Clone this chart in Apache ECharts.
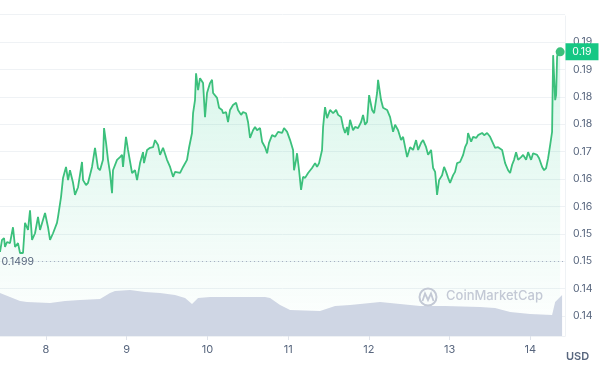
<!DOCTYPE html>
<html>
<head>
<meta charset="utf-8">
<script src="https://cdn.jsdelivr.net/npm/echarts@6.0.0/dist/echarts.min.js"></script>
<style>
html,body{margin:0;padding:0;background:#fff;}
#chart{width:600px;height:366px;}
</style>
</head>
<body>
<div id="chart"></div>
<script>
// ---- data (time in days of month, price in USD) ----
const times = [
  7.430,7.455,7.480,7.492,7.517,7.554,7.591,7.616,7.653,7.678,7.715,7.740,7.777,7.802,7.827,7.864,7.901,7.926,7.988,8.025,8.050,8.087,8.136,8.149,8.186,8.211,8.248,8.273,8.297,8.335,8.359,8.397,8.446,8.459,8.496,8.521,8.570,8.607,8.644,
  8.669,8.706,8.719,8.744,8.768,8.793,8.818,8.830,8.880,8.917,8.942,8.954,8.991,9.016,9.066,9.103,9.128,9.165,9.202,9.214,9.252,9.289,9.326,9.351,9.388,9.413,9.450,9.499,9.537,9.574,9.599,9.623,9.661,9.698,9.747,9.772,9.809,9.822,9.846,9.859,
  9.884,9.908,9.946,9.970,9.995,10.032,10.057,10.070,10.119,10.144,10.181,10.193,10.231,10.255,10.280,10.317,10.355,10.379,10.417,10.441,10.478,10.503,10.528,10.565,10.590,10.615,10.652,10.677,10.714,10.739,10.763,10.801,10.838,10.875,10.925,10.949,10.987,11.024,
  11.061,11.073,11.098,11.110,11.135,11.160,11.185,11.210,11.247,11.296,11.334,11.358,11.383,11.420,11.433,11.457,11.482,11.519,11.557,11.594,11.619,11.656,11.681,11.705,11.730,11.742,11.767,11.804,11.829,11.866,11.904,11.928,11.953,11.978,12.003,12.040,12.065,12.102,12.114,12.151,12.176,12.226,12.263,
  12.300,12.325,12.362,12.399,12.424,12.474,12.511,12.548,12.585,12.610,12.647,12.672,12.709,12.734,12.771,12.796,12.821,12.845,12.870,12.907,12.932,12.957,12.982,13.006,13.044,13.068,13.093,13.130,13.168,13.192,13.217,13.229,13.267,13.291,13.329,13.353,13.403,13.428,13.465,13.502,13.564,13.601,13.651,13.688,13.725,13.750,13.775,13.799,13.824,13.849,13.886,13.911,13.948,13.973,14.010,14.035,14.084,14.109,14.147,14.171,14.196,14.221,14.246,14.270,
  14.283,14.308,14.320,14.332,14.345,14.370
];
const prices = [
  0.1517,0.1539,0.1542,0.1526,0.1535,0.1533,0.1562,0.1526,0.1533,0.1515,0.1515,0.1570,0.1557,0.1593,0.1539,0.1551,0.1581,0.1557,0.1588,0.1562,0.1539,0.1551,0.1570,0.1581,0.1617,0.1652,0.1672,0.1648,0.1666,0.1643,0.1621,0.1635,0.1681,0.1648,0.1639,0.1643,0.1672,0.1707,0.1670,
  0.1666,0.1685,0.1743,0.1716,0.1685,0.1661,0.1624,0.1666,0.1685,0.1690,0.1694,0.1672,0.1727,0.1703,0.1661,0.1666,0.1648,0.1679,0.1699,0.1679,0.1703,0.1707,0.1708,0.1721,0.1712,0.1694,0.1707,0.1685,0.1672,0.1654,0.1663,0.1666,0.1661,0.1672,0.1685,0.1707,0.1734,0.1770,0.1794,0.1843,
  0.1812,0.1834,0.1825,0.1763,0.1807,0.1825,0.1831,0.1807,0.1798,0.1780,0.1776,0.1770,0.1772,0.1754,0.1776,0.1785,0.1789,0.1776,0.1767,0.1772,0.1770,0.1754,0.1725,0.1739,0.1745,0.1739,0.1743,0.1718,0.1708,0.1697,0.1716,0.1730,0.1727,0.1736,0.1734,0.1743,0.1736,0.1721,
  0.1703,0.1666,0.1685,0.1697,0.1666,0.1630,0.1654,0.1652,0.1661,0.1670,0.1679,0.1672,0.1679,0.1703,0.1745,0.1781,0.1761,0.1776,0.1770,0.1776,0.1767,0.1763,0.1745,0.1734,0.1745,0.1730,0.1758,0.1739,0.1745,0.1743,0.1754,0.1767,0.1749,0.1754,0.1803,0.1776,0.1770,0.1807,0.1831,0.1794,0.1780,0.1776,0.1763,
  0.1736,0.1749,0.1739,0.1721,0.1727,0.1690,0.1708,0.1703,0.1721,0.1703,0.1716,0.1721,0.1708,0.1694,0.1703,0.1670,0.1663,0.1621,0.1648,0.1657,0.1672,0.1663,0.1652,0.1643,0.1657,0.1663,0.1679,0.1681,0.1694,0.1708,0.1716,0.1734,0.1718,0.1727,0.1725,0.1730,0.1734,0.1730,0.1734,0.1727,0.1707,0.1708,0.1703,0.1679,0.1666,0.1661,0.1676,0.1685,0.1699,0.1685,0.1690,0.1694,0.1685,0.1699,0.1685,0.1697,0.1694,0.1688,0.1672,0.1666,0.1670,0.1688,0.1712,0.1736,
  0.1876,0.1794,0.1803,0.1873,0.1882,0.1882
];
const volTimes = [7.430,7.554,7.678,7.765,8.050,8.236,8.421,8.669,8.793,8.855,9.041,9.227,9.413,9.599,9.723,9.809,9.884,10.032,10.714,10.776,10.900,11.024,11.395,11.581,11.767,12.139,12.387,12.635,12.944,13.378,13.564,13.750,13.998,14.270,14.308,14.394];
const volumes  = [26.9,24.4,21.9,21.3,20.6,21.9,22.5,23.1,26.9,28.1,28.8,27.5,26.9,25.6,23.8,20.0,23.8,24.4,24.4,23.8,19.4,16.3,15.6,18.8,19.4,21.3,20.0,18.8,18.8,18.1,17.5,15.0,13.8,13.1,21.3,25.6];
const xTicks = [8,9,10,11,12,13,14];
const xTickLabels = ['8','9','10','11','12','13','14'];
const yTickValuesStart = 0.14, yTickStep = 0.005;
const yTickLabels = ['0.14','0.14','0.15','0.15','0.16','0.16','0.17','0.18','0.18','0.19','0.19',''];
const refPrice = 0.1499;
const refPriceLabel = '0.1499';
const refLineStart = 7.901;
const currentPriceLabel = '0.19';

const GREEN = '#16c784';
const LINE = '#3cc07c';
const TXT = '#58667e';
const FONT = 'Inter, Roboto, sans-serif';
const xMin = 7.43, xMax = 14.43;

const lastT = times[times.length-1], lastP = prices[prices.length-1];

const chart = echarts.init(document.getElementById('chart'), null, {renderer:'canvas'});
chart.setOption({
  animation:false,
  textStyle:{fontFamily:FONT},
  grid:[
    {left:0, right:35, top:14.6, bottom:50},
    {left:0, right:35, top:16, bottom:30}
  ],
  xAxis:[
    {gridIndex:0, type:'value', min:xMin, max:xMax, show:false},
    {gridIndex:1, type:'value', min:xMin, max:xMax,
      axisLine:{show:true, lineStyle:{color:'#eff2f5'}},
      axisTick:{show:true, customValues:xTicks, length:4, lineStyle:{color:'#dfe3ea'}},
      axisLabel:{customValues:xTicks, color:TXT, fontSize:11, margin:8, fontFamily:FONT,
        formatter:(v)=>{const i=xTicks.indexOf(Math.round(v)); return i>=0?xTickLabels[i]:'';}},
      splitLine:{show:false}}
  ],
  yAxis:[
    {gridIndex:0, type:'value', position:'right', min:0.14, max:0.195, interval:0.005,
      axisLine:{show:false}, axisTick:{show:false},
      splitLine:{show:true, lineStyle:{color:'#eff2f5', width:1}},
      axisLabel:{color:TXT, fontSize:10.5, margin:8, fontFamily:FONT,
        formatter:(v)=>{const i=Math.round((v-yTickValuesStart)/yTickStep); return yTickLabels[i]||'';}}},
    {gridIndex:1, type:'value', position:'right', min:0, max:200,
      axisLine:{show:true, lineStyle:{color:'#eff2f5'}}, axisTick:{show:false},
      axisLabel:{show:false}, splitLine:{show:false}}
  ],
  series:[
    {
      type:'line', xAxisIndex:0, yAxisIndex:0,
      data: times.map((t,i)=>[t,prices[i]]),
      showSymbol:false, symbol:'none',
      lineStyle:{color:LINE, width:1.8},
      areaStyle:{origin:'start', color:new echarts.graphic.LinearGradient(0,0,0,1,[
        {offset:0,color:'rgba(22,199,132,0.24)'},
        {offset:1,color:'rgba(22,199,132,0.02)'}])},
      markLine:{
        silent:true, symbol:['none','none'],
        data:[
          [{coord:[refLineStart, refPrice], lineStyle:{color:'#a6b0c3', type:[1,3], width:1},
             label:{show:true, position:'start', formatter:refPriceLabel, color:TXT, fontSize:10.5, fontFamily:FONT, distance:4}},
           {coord:[xMax, refPrice]}]
        ]
      },
      markPoint:{
        silent:true,
        data:[
          {coord:[lastT,lastP], symbol:'circle', symbolSize:9, itemStyle:{color:LINE}, label:{show:false}},
          {coord:[xMax,lastP], symbol:'rect', symbolSize:[33,17], symbolOffset:[17,0], itemStyle:{color:GREEN},
            label:{show:true, position:'inside', formatter:currentPriceLabel, color:'#fff', fontSize:10.5, fontFamily:FONT}}
        ]
      }
    },
    {
      type:'line', xAxisIndex:1, yAxisIndex:1,
      data: volTimes.map((t,i)=>[t,volumes[i]]),
      showSymbol:false, symbol:'none',
      lineStyle:{width:0, color:'#cfd6e4'},
      areaStyle:{color:'#cfd6e4', opacity:1}
    }
  ],
  graphic:[
    {type:'text', left:566, top:351, style:{text:'USD', fill:TXT, font:'600 11px '+FONT}},
    {type:'circle', z:100, shape:{cx:428, cy:297, r:8.5}, style:{fill:null, stroke:'#c3c9d5', lineWidth:2}},
    {type:'polyline', z:100, shape:{points:[[422.5,301],[425,293.5],[428,300],[431,293.5],[433.5,301]]}, style:{fill:null, stroke:'#c3c9d5', lineWidth:1.8}},
    {type:'text', z:100, left:446, top:290, style:{text:'CoinMarketCap', fill:'#c3c9d5', font:'500 13px '+FONT}}
  ]
});
</script>
</body>
</html>
